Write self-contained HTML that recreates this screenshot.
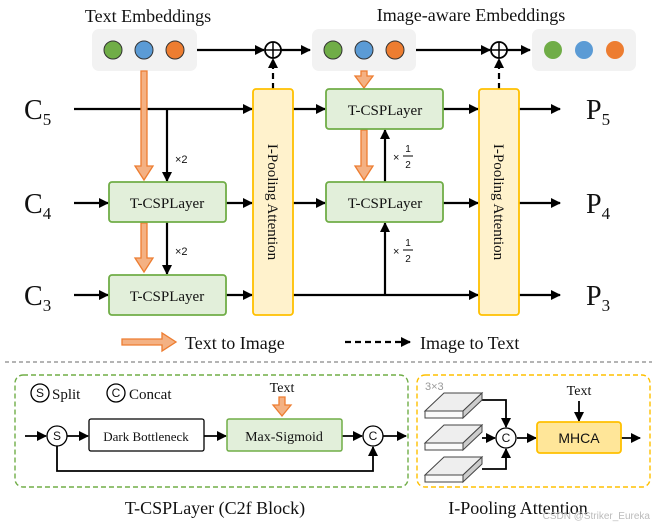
<!DOCTYPE html>
<html><head><meta charset="utf-8"><style>
html,body{margin:0;padding:0;background:#fff;}
svg{display:block;}
.s{font-family:"Liberation Serif",serif;fill:#111;}
.a{font-family:"Liberation Sans",sans-serif;fill:#111;}
</style></head><body>
<svg width="657" height="527" viewBox="0 0 657 527" xmlns="http://www.w3.org/2000/svg">
<defs>
<marker id="ah" markerWidth="10" markerHeight="10" refX="9" refY="5" orient="auto" markerUnits="userSpaceOnUse"><path d="M0,0 L10,5 L0,10 z" fill="#000"/></marker>
</defs>
<g stroke="#000" stroke-width="2.2" fill="none">
<!-- top row -->
<line x1="197" y1="50" x2="264" y2="50" marker-end="url(#ah)"/>
<line x1="281" y1="50" x2="310" y2="50" marker-end="url(#ah)"/>
<line x1="416" y1="50" x2="490" y2="50" marker-end="url(#ah)"/>
<line x1="507" y1="50" x2="530" y2="50" marker-end="url(#ah)"/>
<line x1="273" y1="89" x2="273" y2="59" stroke-dasharray="6,4" marker-end="url(#ah)"/>
<line x1="499" y1="89" x2="499" y2="59" stroke-dasharray="6,4" marker-end="url(#ah)"/>
<!-- left -->
<line x1="74" y1="109" x2="252" y2="109" marker-end="url(#ah)"/>
<line x1="167" y1="109" x2="167" y2="181" marker-end="url(#ah)"/>
<line x1="167" y1="222" x2="167" y2="274" marker-end="url(#ah)"/>
<line x1="74" y1="203" x2="108" y2="203" marker-end="url(#ah)"/>
<line x1="74" y1="295" x2="108" y2="295" marker-end="url(#ah)"/>
<line x1="226" y1="203" x2="252" y2="203" marker-end="url(#ah)"/>
<line x1="226" y1="295" x2="252" y2="295" marker-end="url(#ah)"/>
<!-- middle -->
<line x1="293" y1="109" x2="325" y2="109" marker-end="url(#ah)"/>
<line x1="293" y1="203" x2="325" y2="203" marker-end="url(#ah)"/>
<line x1="293" y1="295" x2="478" y2="295" marker-end="url(#ah)"/>
<line x1="443" y1="109" x2="478" y2="109" marker-end="url(#ah)"/>
<line x1="443" y1="203" x2="478" y2="203" marker-end="url(#ah)"/>
<line x1="385" y1="182" x2="385" y2="130" marker-end="url(#ah)"/>
<line x1="385" y1="295" x2="385" y2="223" marker-end="url(#ah)"/>
<line x1="519" y1="109" x2="560" y2="109" marker-end="url(#ah)"/>
<line x1="519" y1="203" x2="560" y2="203" marker-end="url(#ah)"/>
<line x1="519" y1="295" x2="560" y2="295" marker-end="url(#ah)"/>
<!-- legend -->
<line x1="345" y1="342" x2="410" y2="342" stroke-dasharray="6,4" marker-end="url(#ah)"/>
</g>
<!-- embedding boxes -->
<rect x="92" y="29" width="105" height="42" rx="7" fill="#f2f2f2"/>
<rect x="312" y="29" width="104" height="42" rx="7" fill="#f2f2f2"/>
<rect x="532" y="29" width="104" height="42" rx="7" fill="#f2f2f2"/>
<g stroke="#333" stroke-width="1">
<circle cx="113" cy="50" r="9" fill="#70ad47"/><circle cx="144" cy="50" r="9" fill="#5b9bd5"/><circle cx="175" cy="50" r="9" fill="#ed7d31"/>
<circle cx="333" cy="50" r="9" fill="#70ad47"/><circle cx="364" cy="50" r="9" fill="#5b9bd5"/><circle cx="395" cy="50" r="9" fill="#ed7d31"/>
</g>
<circle cx="553" cy="50" r="9" fill="#70ad47"/><circle cx="584" cy="50" r="9" fill="#5b9bd5"/><circle cx="615" cy="50" r="9" fill="#ed7d31"/>
<g stroke="#000" stroke-width="1.8" fill="#fff">
<circle cx="273" cy="50" r="8"/><circle cx="499" cy="50" r="8"/>
</g>
<g stroke="#000" stroke-width="1.5"><line x1="265" y1="50" x2="281" y2="50"/><line x1="273" y1="42" x2="273" y2="58"/><line x1="491" y1="50" x2="507" y2="50"/><line x1="499" y1="42" x2="499" y2="58"/></g>
<text class="s" x="148" y="22" font-size="18" text-anchor="middle">Text Embeddings</text>
<text class="s" x="471" y="21" font-size="18" text-anchor="middle">Image-aware Embeddings</text>
<!-- orange arrows -->
<g fill="#f4b183" stroke="#ed7d31" stroke-width="1.3">
<path d="M141,71 h6 v95 h6 l-9,14 l-9,-14 h6 z"/>
<path d="M141,223 h6 v35 h6 l-9,14 l-9,-14 h6 z"/>
<path d="M361,71 h6 v5 h6 l-9,12 l-9,-12 h6 z"/>
<path d="M361,130 h6 v36 h6 l-9,14 l-9,-14 h6 z"/>
<path d="M122,339 h40 v-6 l14,9 l-14,9 v-6 h-40 z"/>
<path d="M279,397 h6 v8 h6 l-9,11 l-9,-11 h6 z"/>
</g>
<!-- T-CSP boxes -->
<g fill="#e2efda" stroke="#70ad47" stroke-width="1.8">
<rect x="109" y="182" width="117" height="40" rx="3"/>
<rect x="109" y="275" width="117" height="40" rx="3"/>
<rect x="326" y="89" width="117" height="40" rx="3"/>
<rect x="326" y="182" width="117" height="40" rx="3"/>
</g>
<g class="s" font-size="15" text-anchor="middle">
<text x="167" y="208">T-CSPLayer</text><text x="167" y="301">T-CSPLayer</text>
<text x="385" y="115">T-CSPLayer</text><text x="385" y="208">T-CSPLayer</text>
</g>
<g fill="#fff2cc" stroke="#ffc000" stroke-width="1.8">
<rect x="253" y="89" width="40" height="226" rx="3"/>
<rect x="479" y="89" width="40" height="226" rx="3"/>
</g>
<text class="s" font-size="15" text-anchor="middle" transform="translate(268,202) rotate(90)">I-Pooling Attention</text>
<text class="s" font-size="15" text-anchor="middle" transform="translate(494,202) rotate(90)">I-Pooling Attention</text>
<g class="a" font-size="11">
<text x="175" y="163">×2</text><text x="175" y="255">×2</text>
<text x="393" y="161">×</text><text x="393" y="255">×</text>
</g>
<g class="a" font-size="10" text-anchor="middle">
<text x="408" y="152">1</text><text x="408" y="168">2</text>
<text x="408" y="246">1</text><text x="408" y="262">2</text>
</g>
<line x1="403" y1="156" x2="413" y2="156" stroke="#000" stroke-width="1"/>
<line x1="403" y1="250" x2="413" y2="250" stroke="#000" stroke-width="1"/>
<!-- C and P labels -->
<g class="s" font-size="28">
<text x="24" y="119">C<tspan font-size="17" dy="6">5</tspan></text>
<text x="24" y="213">C<tspan font-size="17" dy="6">4</tspan></text>
<text x="24" y="305">C<tspan font-size="17" dy="6">3</tspan></text>
<text x="586" y="119">P<tspan font-size="17" dy="6">5</tspan></text>
<text x="586" y="213">P<tspan font-size="17" dy="6">4</tspan></text>
<text x="586" y="305">P<tspan font-size="17" dy="6">3</tspan></text>
</g>
<text class="s" x="185" y="349" font-size="18">Text to Image</text>
<text class="s" x="420" y="349" font-size="18">Image to Text</text>
<line x1="5" y1="362" x2="652" y2="362" stroke="#888" stroke-width="1.2" stroke-dasharray="4,3"/>
<!-- bottom panels -->
<rect x="15" y="375" width="393" height="112" rx="8" fill="none" stroke="#70ad47" stroke-width="1.4" stroke-dasharray="5,3"/>
<rect x="417" y="375" width="233" height="112" rx="8" fill="none" stroke="#ffc000" stroke-width="1.4" stroke-dasharray="5,3"/>
<g stroke="#000" stroke-width="1.8" fill="none">
<line x1="25" y1="436" x2="46" y2="436" marker-end="url(#ah)"/>
<line x1="67" y1="436" x2="88" y2="436" marker-end="url(#ah)"/>
<line x1="204" y1="436" x2="226" y2="436" marker-end="url(#ah)"/>
<line x1="342" y1="436" x2="362" y2="436" marker-end="url(#ah)"/>
<line x1="383" y1="436" x2="406" y2="436" marker-end="url(#ah)"/>
<polyline points="57,446 57,471 373,471 373,447" marker-end="url(#ah)"/>
<polyline points="482,400 506,400 506,427" marker-end="url(#ah)"/>
<line x1="482" y1="438" x2="495" y2="438" marker-end="url(#ah)"/>
<polyline points="482,469 506,469 506,449" marker-end="url(#ah)"/>
<line x1="517" y1="438" x2="536" y2="438" marker-end="url(#ah)"/>
<line x1="621" y1="438" x2="640" y2="438" marker-end="url(#ah)"/>
<line x1="579" y1="401" x2="579" y2="421" marker-end="url(#ah)"/>
</g>
<rect x="89" y="419" width="115" height="32" rx="2" fill="#fff" stroke="#000" stroke-width="1.3"/>
<rect x="227" y="419" width="115" height="32" rx="2" fill="#e2efda" stroke="#70ad47" stroke-width="1.5"/>
<text class="s" x="146" y="441" font-size="13" text-anchor="middle">Dark Bottleneck</text>
<text class="s" x="284" y="441" font-size="14" text-anchor="middle">Max-Sigmoid</text>
<text class="s" x="282" y="392" font-size="14" text-anchor="middle">Text</text>
<rect x="537" y="422" width="84" height="31" rx="3" fill="#ffe699" stroke="#ffc000" stroke-width="1.8"/>
<text class="a" x="579" y="443" font-size="14" text-anchor="middle">MHCA</text>
<text class="s" x="579" y="395" font-size="14" text-anchor="middle">Text</text>
<text class="a" x="425" y="390" font-size="11" fill="#999" style="fill:#999">3×3</text>
<g fill="#fff" stroke="#000" stroke-width="1.3">
<circle cx="57" cy="436" r="10"/><circle cx="373" cy="436" r="10"/><circle cx="506" cy="438" r="10"/>
<circle cx="40" cy="393" r="9"/><circle cx="116" cy="393" r="9"/>
</g>
<g class="a" font-size="12" text-anchor="middle">
<text x="57" y="440">S</text><text x="373" y="440">C</text><text x="506" y="442">C</text>
<text x="40" y="397">S</text><text x="116" y="397">C</text>
</g>
<text class="s" x="52" y="399" font-size="15">Split</text>
<text class="s" x="129" y="399" font-size="15">Concat</text>
<!-- slabs -->
<g stroke="#444" stroke-width="1">
<g><path d="M425,411 L444,393 L482,393 L463,411 z" fill="#eee"/><path d="M463,411 L482,393 L482,400 L463,418 z" fill="#ccc"/><rect x="425" y="411" width="38" height="7" fill="#fafafa"/></g>
<g><path d="M425,443 L444,425 L482,425 L463,443 z" fill="#eee"/><path d="M463,443 L482,425 L482,432 L463,450 z" fill="#ccc"/><rect x="425" y="443" width="38" height="7" fill="#fafafa"/></g>
<g><path d="M425,475 L444,457 L482,457 L463,475 z" fill="#eee"/><path d="M463,475 L482,457 L482,464 L463,482 z" fill="#ccc"/><rect x="425" y="475" width="38" height="7" fill="#fafafa"/></g>
</g>
<text class="s" x="215" y="514" font-size="18" text-anchor="middle">T-CSPLayer (C2f Block)</text>
<text class="s" x="518" y="514" font-size="18" text-anchor="middle">I-Pooling Attention</text>
<text class="a" x="650" y="519" font-size="10" text-anchor="end" style="fill:#bbb">CSDN @Striker_Eureka</text>
</svg>
</body></html>
